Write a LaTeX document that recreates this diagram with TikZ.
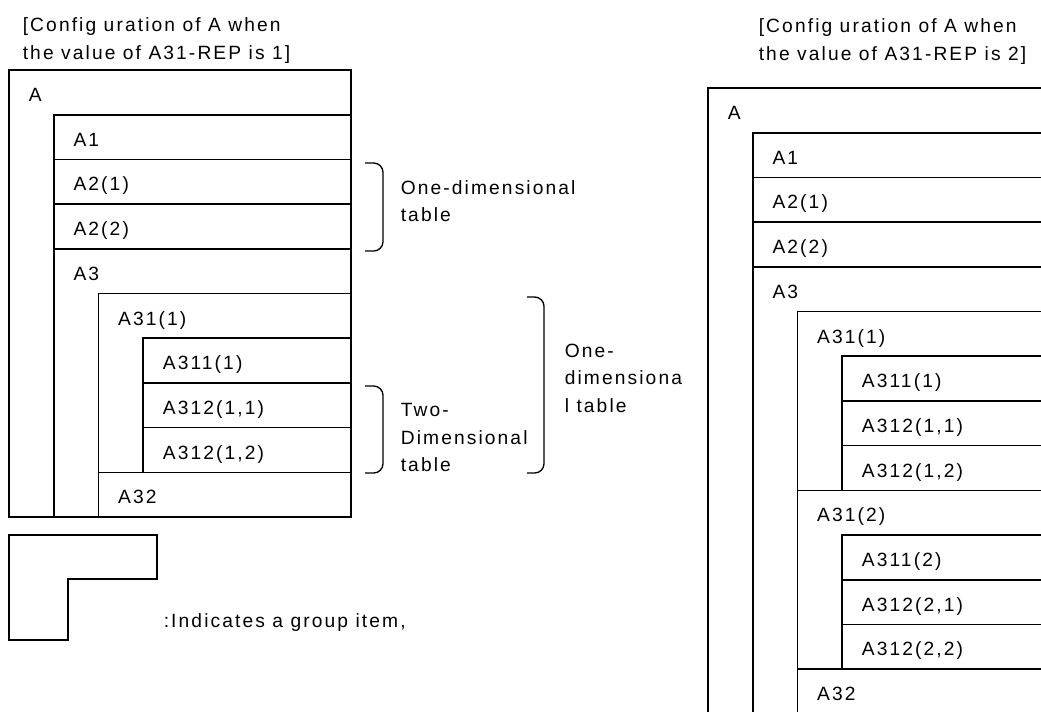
\documentclass[tikz,border=0pt]{standalone}
\usepackage{fontspec}
\setmainfont{Liberation Sans}[LetterSpace=11]
\begin{document}
\begin{tikzpicture}[x=0.75pt, y=-0.75pt, line width=1.2pt,
  lbl/.style={anchor=base west, inner sep=0pt, font=\fontsize{14.4}{20.6}\selectfont},
  note/.style={anchor=base west, inner sep=0pt, align=left, font=\fontsize{14.4}{20.6}\selectfont},
  brk/.style={line width=1pt, rounded corners=7pt}]
\useasboundingbox (0,0) rectangle (1041,711);

% titles (base = last line)
\node [note] (tl) at (22,59) {[Config uration of A when\\the value of A31-REP is 1]};
\node [note] (tr) at (758,60) {[Config uration of A when\\the value of A31-REP is 2]};

% left: A31-REP = 1
\draw (9,70) rectangle (351,517);
\draw (53.7,114.7) rectangle (351,159.4);
\draw (53.7,159.4) rectangle (351,204.1);
\draw (53.7,204.1) rectangle (351,248.8);
\draw (53.7,248.8) rectangle (351,517);
\draw (98.4,293.5) rectangle (351,472.3);
\draw (143.1,338.2) rectangle (351,382.9);
\draw (143.1,382.9) rectangle (351,427.6);
\draw (143.1,427.6) rectangle (351,472.3);
\draw (98.4,472.3) rectangle (351,517);
\node [lbl] (lA) at (28,101.5) {A};
\node [lbl] (lA1) at (72.7,146.2) {A1};
\node [lbl] (lA21) at (72.7,190.9) {A2(1)};
\node [lbl] (lA22) at (72.7,235.6) {A2(2)};
\node [lbl] (lA3) at (72.7,280.3) {A3};
\node [lbl] (lA31) at (117.4,325) {A31(1)};
\node [lbl] (lA311) at (162.1,369.7) {A311(1)};
\node [lbl] (lA3121) at (162.1,414.4) {A312(1,1)};
\node [lbl] (lA3122) at (162.1,459.1) {A312(1,2)};
\node [lbl] (lA32) at (117.4,503.8) {A32};

% braces
\coordinate (b1t) at (365,163);
\coordinate (b1b) at (365,251);
\coordinate (b2t) at (365,386);
\coordinate (b2b) at (365,473);
\coordinate (b3t) at (527,297);
\coordinate (b3b) at (527,473);
\draw [brk] (b1t) -- (383,163) -- (383,251) -- (b1b);
\draw [brk] (b2t) -- (383,386) -- (383,473) -- (b2b);
\draw [brk] (b3t) -- (544,297) -- (544,473) -- (b3b);
\node [note] (n1) at (400,221.5) {One-dimensional\\table};
\node [note] (n2) at (400,471.7) {Two-\\Dimensional\\table};
\node [note] (n3) at (564,412) {One-\\dimensiona\\l table};

% legend
\draw (9,535) -- (157,535) -- (157,579) -- (68,579) -- (68,640) -- (9,640) -- cycle;
\node [lbl] (key) at (163,627) {:Indicates a group item,};

% right: A31-REP = 2
\draw (708,88) rectangle (1050,720);
\draw (752.7,132.7) rectangle (1050,177.4);
\draw (752.7,177.4) rectangle (1050,222.1);
\draw (752.7,222.1) rectangle (1050,266.8);
\draw (752.7,266.8) rectangle (1050,720);
\draw (797.4,311.5) rectangle (1050,490.3);
\draw (842.1,356.2) rectangle (1050,400.9);
\draw (842.1,400.9) rectangle (1050,445.6);
\draw (842.1,445.6) rectangle (1050,490.3);
\draw (797.4,490.3) rectangle (1050,669.1);
\draw (842.1,535) rectangle (1050,579.7);
\draw (842.1,579.7) rectangle (1050,624.4);
\draw (842.1,624.4) rectangle (1050,669.1);
\draw (797.4,669.1) rectangle (1050,720);
\node [lbl] (rA) at (727,119.5) {A};
\node [lbl] (rA1) at (771.7,164.2) {A1};
\node [lbl] (rA21) at (771.7,208.9) {A2(1)};
\node [lbl] (rA22) at (771.7,253.6) {A2(2)};
\node [lbl] (rA3) at (771.7,298.3) {A3};
\node [lbl] (rA311) at (816.4,343) {A31(1)};
\node [lbl] (rA3111) at (861.1,387.7) {A311(1)};
\node [lbl] (rA31211) at (861.1,432.4) {A312(1,1)};
\node [lbl] (rA31212) at (861.1,477.1) {A312(1,2)};
\node [lbl] (rA312) at (816.4,521.8) {A31(2)};
\node [lbl] (rA3112) at (861.1,566.5) {A311(2)};
\node [lbl] (rA31221) at (861.1,611.2) {A312(2,1)};
\node [lbl] (rA31222) at (861.1,655.9) {A312(2,2)};
\node [lbl] (rA32) at (816.4,700.6) {A32};
\end{tikzpicture}
\end{document}
